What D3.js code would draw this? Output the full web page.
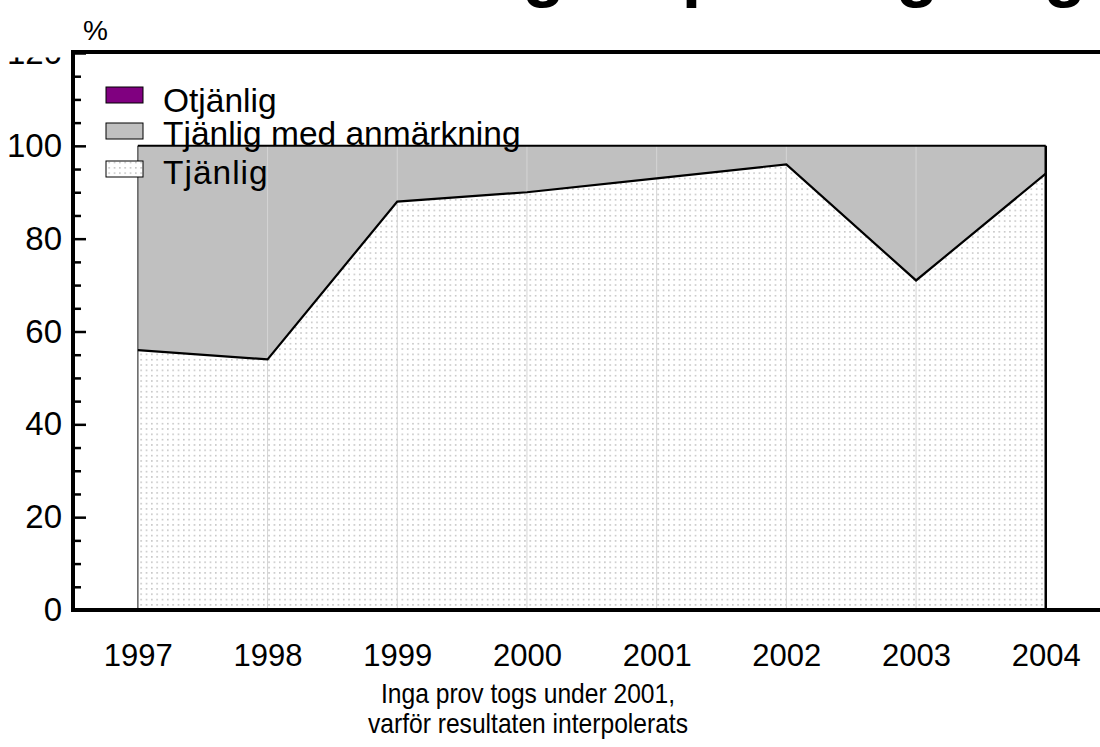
<!DOCTYPE html>
<html>
<head>
<meta charset="utf-8">
<script src="https://cdn.jsdelivr.net/npm/d3@7"></script>
<style>
  html, body { margin: 0; padding: 0; background: #fff; }
  svg { display: block; font-family: Arial, "Liberation Sans", sans-serif; }
</style>
</head>
<body>
<svg id="chart" width="1100" height="747"></svg>
<script>
// ---- data ----
const years = ["1997", "1998", "1999", "2000", "2001", "2002", "2003", "2004"];
const tjanlig = [56, 54, 88, 90, 93, 96, 71, 94];
const anmarkning = [44, 46, 12, 10, 7, 4, 29, 6];
const otjanlig = [0, 0, 0, 0, 0, 0, 0, 0];
const yTicks = [0, 20, 40, 60, 80, 100, 120];
const seriesNames = ["Otjänlig", "Tjänlig med anmärkning", "Tjänlig"];
const titleText = "Bedömning av provtagning";
const noteLines = ["Inga prov togs under 2001,", "varför resultaten interpolerats"];

const rows = years.map((yr, i) => ({ year: yr, tj: tjanlig[i], anm: anmarkning[i], otj: otjanlig[i] }));

const svg = d3.select("#chart");
const plotLeft = 73, plotBottom = 610, plotTop = 53;

const x = d3.scalePoint().domain(years).range([plotLeft, 1110.6]).padding(0.5);
const y = d3.scaleLinear().domain([0, 120]).range([plotBottom, plotTop]);

const defs = svg.append("defs");
const pat = defs.append("pattern").attr("id", "dots").attr("patternUnits", "userSpaceOnUse")
  .attr("width", 5.33).attr("height", 5.33);
pat.append("rect").attr("width", 5.33).attr("height", 5.33).attr("fill", "#fff");
pat.append("rect").attr("x", 2).attr("y", 2).attr("width", 1.2).attr("height", 1.2).attr("fill", "#9a9a9a");

defs.append("clipPath").attr("id", "lblclip").append("rect")
  .attr("x", -80).attr("y", 0).attr("width", 150).attr("height", 600);

// title (mostly off-canvas)
svg.append("text").attr("x", 180).attr("y", -7)
  .attr("font-size", 70).attr("font-weight", "bold").text(titleText);

// stacked areas
const stack = d3.stack().keys(["tj", "anm", "otj"]);
const layers = stack(rows);
const fills = { tj: "url(#dots)", anm: "#c0c0c0", otj: "#800080" };
const area = d3.area().x(d => x(d.data.year)).y0(d => y(d[0])).y1(d => y(d[1]));

svg.append("g").selectAll("path").data(layers).join("path")
  .attr("d", area).attr("fill", d => fills[d.key]).attr("stroke", "none");

// vertical separators
svg.append("g").selectAll("line").data(years.slice(1, -1)).join("line")
  .attr("x1", d => x(d)).attr("x2", d => x(d))
  .attr("y1", y(100)).attr("y2", y(0))
  .attr("stroke", "#d4d4d4").attr("stroke-width", 1);

// edges
svg.append("line").attr("x1", x(years[0])).attr("x2", x(years[0]))
  .attr("y1", y(100)).attr("y2", y(0)).attr("stroke", "#606060").attr("stroke-width", 1.5);
svg.append("line").attr("x1", x(years[years.length - 1])).attr("x2", x(years[years.length - 1]))
  .attr("y1", y(100)).attr("y2", y(0)).attr("stroke", "#000").attr("stroke-width", 2.5);

// boundary lines
const lineTop = d3.line().x(d => x(d.data.year)).y(d => y(d[1]));
svg.append("path").attr("d", lineTop(layers[0])).attr("fill", "none")
  .attr("stroke", "#000").attr("stroke-width", 2.2);
svg.append("path").attr("d", lineTop(layers[1])).attr("fill", "none")
  .attr("stroke", "#000").attr("stroke-width", 2);

// y axis ticks
const minor = d3.range(0, 121, 5).filter(v => v % 20 !== 0);
const gMinor = svg.append("g").attr("transform", `translate(${plotLeft},0)`)
  .call(d3.axisLeft(y).tickValues(minor).tickSize(-8).tickFormat(""));
gMinor.select(".domain").remove();
gMinor.selectAll(".tick line").attr("stroke", "#000").attr("stroke-width", 2.5);

const gMajor = svg.append("g").attr("transform", `translate(${plotLeft},0)`)
  .call(d3.axisLeft(y).tickValues(yTicks).tickSize(-13).tickPadding(11).tickFormat(d3.format("d")));
gMajor.select(".domain").remove();
gMajor.selectAll(".tick line").attr("stroke", "#000").attr("stroke-width", 2.5);
gMajor.selectAll(".tick text").attr("font-size", 33).attr("fill", "#000")
  .attr("font-family", "Arial, 'Liberation Sans', sans-serif");
// the top label is mostly hidden in the reference; only its lower edge shows
svg.select("#lblclip rect").attr("y", 57 - y(120));
gMajor.selectAll(".tick").filter(d => d === 120).select("text").attr("clip-path", "url(#lblclip)");

// x axis labels
const gx = svg.append("g").attr("transform", `translate(0,${plotBottom})`)
  .call(d3.axisBottom(x).tickSize(0).tickPadding(34));
gx.select(".domain").remove();
gx.selectAll(".tick text").attr("font-size", 31).attr("fill", "#000")
  .attr("font-family", "Arial, 'Liberation Sans', sans-serif");

// frame
svg.append("line").attr("x1", plotLeft).attr("x2", 1100).attr("y1", 52).attr("y2", 52)
  .attr("stroke", "#000").attr("stroke-width", 4);
svg.append("line").attr("x1", plotLeft).attr("x2", 1100).attr("y1", plotBottom).attr("y2", plotBottom)
  .attr("stroke", "#000").attr("stroke-width", 4);
svg.append("line").attr("x1", plotLeft).attr("x2", plotLeft).attr("y1", 50).attr("y2", plotBottom + 2)
  .attr("stroke", "#000").attr("stroke-width", 4);

// % label
svg.append("text").attr("x", 83).attr("y", 40).attr("font-size", 28).text("%");

// legend
const legY = [87, 123, 161];
const legTextY = [112, 145, 184];
const legFill = ["#800080", "#c0c0c0", "url(#dots)"];
const leg = svg.append("g");
seriesNames.forEach((n, i) => {
  leg.append("rect").attr("x", 106).attr("y", legY[i]).attr("width", 37).attr("height", 16)
    .attr("fill", legFill[i]).attr("stroke", "#000").attr("stroke-width", 1);
  leg.append("text").attr("x", 163).attr("y", legTextY[i]).attr("font-size", 33.5)
    .attr("letter-spacing", i === 2 ? 1.0 : 0).text(n);
});

// note
const noteWidths = [294, 320];
noteLines.forEach((t, i) => {
  svg.append("text").attr("x", 528).attr("y", 703 + i * 30).attr("text-anchor", "middle")
    .attr("font-size", 28).attr("textLength", noteWidths[i]).attr("lengthAdjust", "spacingAndGlyphs")
    .text(t);
});
</script>
</body>
</html>
